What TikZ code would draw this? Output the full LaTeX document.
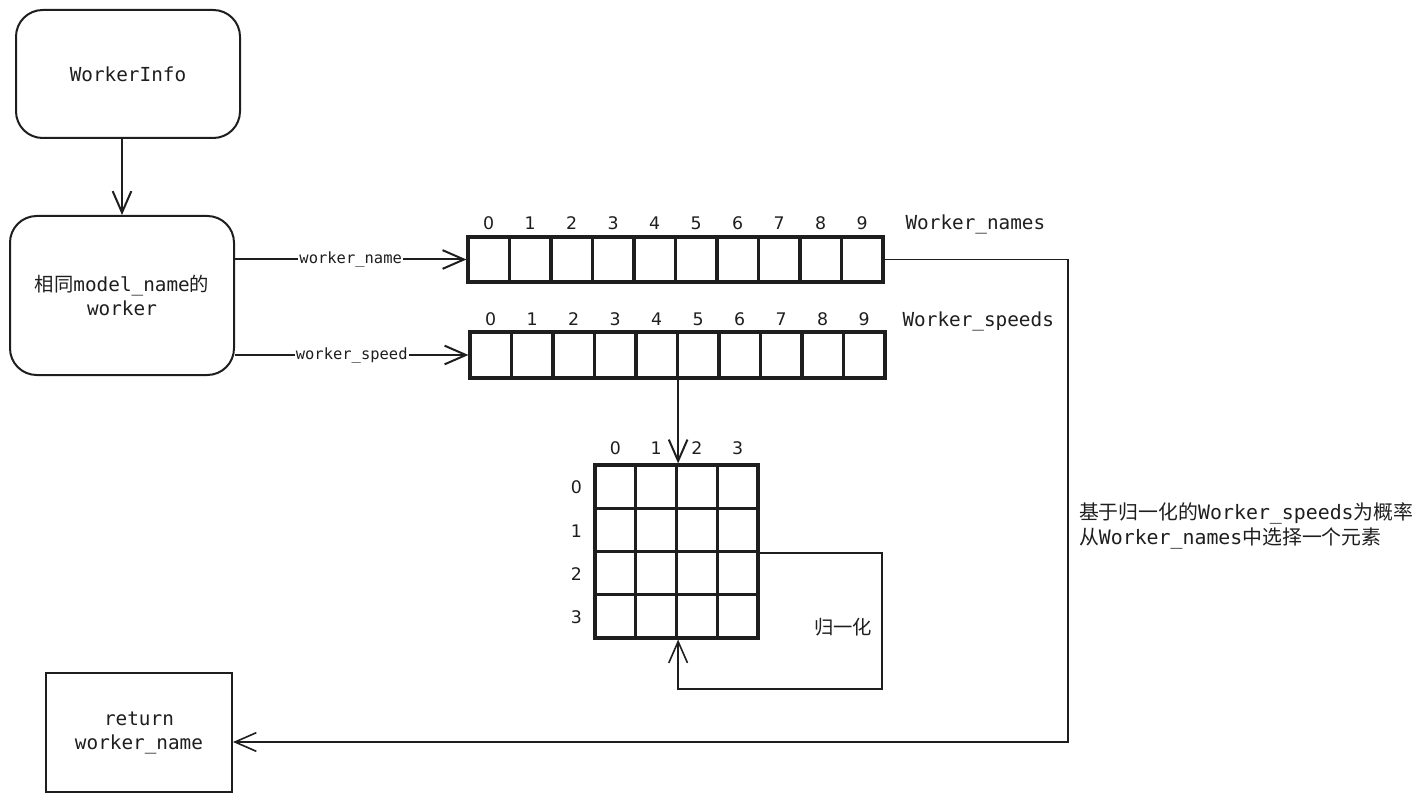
\documentclass[tikz,border=0pt]{standalone}
\usepackage{fontspec}
\setmainfont{DejaVu Sans}
\newfontfamily\cjk{Noto Sans CJK SC}
\newfontfamily\mono{DejaVu Sans Mono}
\usepackage{tikz}
\usetikzlibrary{arrows.meta,positioning}
\definecolor{ink}{HTML}{1E1E1E}

\begin{document}
\begin{tikzpicture}[x=0.75pt,y=-0.75pt,->,>={Straight Barb[length=16pt,width=14pt]},
			draw=ink,text=ink,line width=1.5pt,
			round box/.style={draw,rounded corners=20pt,minimum width=168pt,inner sep=0pt,align=center,font=\mono\fontsize{14.5}{18}\selectfont},
			plain box/.style={draw,minimum width=139.5pt,minimum height=89.25pt,inner sep=0pt,align=center,font=\mono\fontsize{14.5}{18}\selectfont},
			cell/.style={draw,line width=2.4pt,minimum width=31.1pt,minimum height=33.75pt,inner sep=0pt},
			gcell/.style={cell,minimum width=30.56pt,minimum height=32.4pt},
			idx/.style={inner sep=0pt,font=\fontsize{13}{15}\selectfont},
			lbl/.style={inner sep=0pt,font=\mono\fontsize{14.5}{18}\selectfont},
			tag/.style={fill=white,inner sep=1pt,font=\mono\fontsize{11.6}{14}\selectfont},
			thin line/.style={line width=1.2pt}]

			\useasboundingbox (0,0) rectangle (1421,802);

			\node[round box, minimum height=96pt] (info) at (128,74) {WorkerInfo};
			\node[round box, minimum height=119.25pt] (group) at (122,295.5) {{\cjk 相同}model\_name{\cjk 的}\\worker};
			\node[plain box] (ret) at (139,732.5) {\raisebox{-2pt}{return}\\\raisebox{-2pt}{worker\_name}};

			\foreach \i in {0,...,9} {
				\node[cell] (n\i) at (488.75+41.5*\i,259.5) {};
				\node[idx] (ni\i) at ([yshift=9pt]n\i.north) {\i};
				\node[cell, minimum height=34.5pt] (s\i) at (490.75+41.5*\i,355) {};
				\node[idx] (si\i) at ([yshift=8.25pt]s\i.north) {\i};
			}
			\node[lbl, anchor=west] (namesl) at ([xshift=15pt,yshift=8.25pt]n9.north east) {Worker\_names};
			\node[lbl, anchor=west] (speedsl) at ([xshift=11.25pt,yshift=6.75pt]s9.north east) {Worker\_speeds};

			\foreach \r in {0,...,3} {
				\foreach \c in {0,...,3}
					\node[gcell] (g\r\c) at (615.4+40.75*\c,486.6+43.25*\r) {};
				\node[idx] (gr\r) at ([xshift=-12.75pt,yshift=-0.75pt]g\r0.west) {\r};
				\node[idx] (gc\r) at ([yshift=11.25pt]g0\r.north) {\r};
			}

			\node[lbl] (norm) at (843,627) {\cjk 归一化};
			\node[lbl, anchor=west, align=left, font=\mono\fontsize{14.9}{18.75}\selectfont] (rule) at (1078,526) {{\cjk 基于归一化的}Worker\_speeds{\cjk 为概率}\\{\cjk 从}Worker\_names{\cjk 中选择一个元素}};

			\coordinate (lp) at (882,689);
			\coordinate (pk) at (1068,742);

			\path
			(info.south -| group.north) edge (group.north)
			(group.east |- n0) edge node[tag] {worker\_name} (n0.west)
			(group.east |- s0) edge node[tag] {worker\_speed} (s0.west)
			(g01.north east |- s4.south) edge (g01.north east);

			\draw[thin line] (g13.south east) -| (lp) -| (g31.south east);
			\draw[thin line] (n9.east) -| (pk) -- (ret.east |- pk);

		\end{tikzpicture}
\end{document}
